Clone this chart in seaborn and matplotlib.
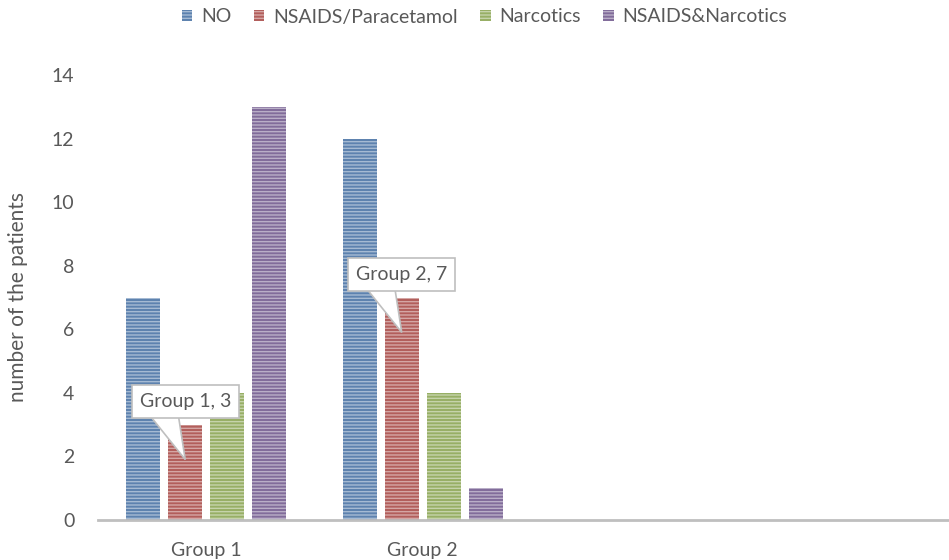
import matplotlib
matplotlib.use("Agg")
import matplotlib.pyplot as plt
from matplotlib.patches import Polygon
import seaborn as sns
import pandas as pd

groups = ["Group 1", "Group 2"]
treatments = ["NO", "NSAIDS/Paracetamol", "Narcotics", "NSAIDS&Narcotics"]
group1_counts = [7, 3, 4, 13]
group2_counts = [12, 7, 4, 1]
colors = ["#4F81BD", "#C0504D", "#9BBB59", "#8064A2"]
yticks = [0, 2, 4, 6, 8, 10, 12, 14]

rows = []
for g, vals in zip(groups, [group1_counts, group2_counts]):
    for t, v in zip(treatments, vals):
        rows.append({"group": g, "treatment": t, "count": v})
df = pd.DataFrame(rows)

sns.set_theme(style="white")
plt.rcParams["font.family"] = ["Lato", "DejaVu Sans"]
plt.rcParams["hatch.linewidth"] = 1.0
text_grey = "#595959"
border_grey = "#BFBFBF"
stripe = (1, 1, 1, 0.45)

fig = plt.figure(figsize=(9.49, 5.6), dpi=100)
ax_w_px, ax_h_px = 866, 445
ax = fig.add_axes([98 / 949, 40 / 560, ax_w_px / 949, ax_h_px / 560])

sns.barplot(data=df, x="group", y="count", hue="treatment", order=groups,
            hue_order=treatments, palette=colors, width=0.776, gap=0.19,
            ax=ax, legend=False)

# Striped fill: light horizontal hatch lines over each bar colour
for cont in ax.containers:
    for bar in cont:
        bar.set_hatch("-----")
        bar.set_edgecolor(stripe)
        if hasattr(bar, "set_hatchcolor"):
            bar.set_hatchcolor(stripe)
        bar.set_linewidth(0)

ax.set_xlim(-0.5, 3.5)
ax.set_ylim(0, 14)
ax.set_yticks(yticks)
ax.set_yticklabels([str(v) for v in yticks])
ax.tick_params(axis="both", length=0, labelsize=14, colors=text_grey)
ax.tick_params(axis="y", pad=17)
ax.tick_params(axis="x", pad=16)
ax.set_xlabel("")
ax.set_ylabel("number of the patients", fontsize=15, color=text_grey, labelpad=17)

for side in ["left", "right", "top"]:
    ax.spines[side].set_visible(False)
ax.spines["bottom"].set_color(border_grey)
ax.spines["bottom"].set_linewidth(2)

# Callouts on the NSAIDS/Paracetamol bars: a text box with a pointer tail
px_x = 4.0 / ax_w_px   # data units per pixel along x
px_y = 14.0 / ax_h_px  # data units per pixel along y
red_bars = ax.containers[1]
for g, bar in zip(groups, red_bars):
    val = bar.get_height()
    xc = bar.get_x() + bar.get_width() / 2
    yc = val + 0.72
    tip = (xc, val - 1.1)
    base_y = yc - 13 * px_y
    tail = Polygon([(xc - 36 * px_x, base_y), (xc - 7 * px_x, base_y), tip],
                   closed=True, fc="white", ec=border_grey, lw=1.2, zorder=4)
    ax.add_patch(tail)
    ax.text(xc, yc, f"{g}, {val:.0f}", ha="center", va="center", fontsize=14,
            color=text_grey, zorder=5,
            bbox=dict(boxstyle="square,pad=0.4", fc="white", ec=border_grey, lw=1.2))

handles = [cont[0] for cont in ax.containers]
leg = fig.legend(handles, treatments, loc="center",
                 bbox_to_anchor=(0.5 + 10 / 949, 1 - 17 / 560),
                 ncol=4, frameon=False, fontsize=14, handlelength=0.55, handleheight=0.55,
                 handletextpad=0.45, columnspacing=1.15)
for txt in leg.get_texts():
    txt.set_color(text_grey)

fig.savefig("out.png", dpi=100)
